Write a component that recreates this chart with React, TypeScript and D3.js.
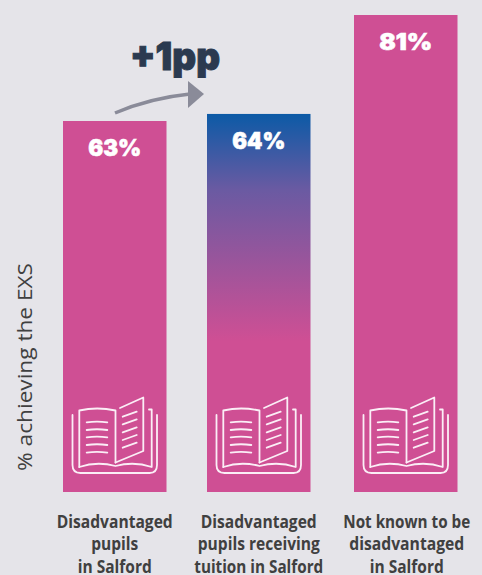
import React from "react";
import * as d3 from "d3";

const categories = ["Disadvantaged pupils in Salford", "Disadvantaged pupils receiving tuition in Salford", "Not known to be disadvantaged in Salford"];
const values = [63, 64.2, 81];
const valueLabels = ["63%", "64%", "81%"];
const labelLines = [
  ["Disadvantaged", "pupils", "in Salford"],
  ["Disadvantaged", "pupils receiving", "tuition in Salford"],
  ["Not known to be", "disadvantaged", "in Salford"],
];
const labelWidths = [
  [116, 47, 74],
  [116, 122, 129],
  [127, 115, 74],
];
const annotation = "+1pp";
const yTitle = "% achieving the EXS";

const W = 482, H = 575;
const PINK = "#cf4f94";
const y = d3.scaleLinear().domain([0, 81]).range([492, 15]);
const lefts = [63, 207, 354];
const barW = 103.5;

function Book({ x }: { x: number }) {
  const dx = x - 63;
  const leftLines = [422.3, 430, 437.3, 445, 452.7];
  const rightLines = [416.7, 424.4, 432.4, 440, 447.7];
  return (
    <g transform={`translate(${dx},0)`} fill="none" stroke="#fbeef6" strokeWidth={1.8} strokeLinecap="round" strokeLinejoin="round">
      <path d="M72.5 415 V465 Q72.5 473 80.5 473 H149.5 Q157 473 157 465 V415" />
      <path d="M79.3 467 V410.5 Q97 406.5 115.5 410.5 V462.5" />
      <path d="M79.3 467 Q97 461 115.5 466 Q134 461 151.7 467 V409.5 H149" />
      <path d="M120 408 L143.3 397.5 V451 L115.5 462.5" />
      {leftLines.map((ly) => (
        <path key={ly} d={`M86.7 ${ly} Q97 ${ly - 1.5} 107.3 ${ly}`} />
      ))}
      {rightLines.map((ly) => (
        <path key={ly} d={`M122.7 ${ly} L136.7 ${ly - 5}`} />
      ))}
    </g>
  );
}

export default function App() {
  return (
    <svg width={W} height={H} viewBox={`0 0 ${W} ${H}`} style={{ position: "fixed", left: 0, top: 0, display: "block" }} role="img" aria-label={categories.join(", ")}>
      <defs>
        <linearGradient id="tuition" x1="0" y1="0" x2="0" y2="1">
          <stop offset="0" stopColor="#0c5aa6" />
          <stop offset="0.2" stopColor="#6a5aa2" />
          <stop offset="0.6" stopColor={PINK} />
          <stop offset="1" stopColor={PINK} />
        </linearGradient>
      </defs>
      <rect width={W} height={H} fill="#e5e4e9" />
      {values.map((v, i) => (
        <g key={i}>
          <rect x={lefts[i]} y={y(v)} width={barW} height={y(0) - y(v)} fill={i === 1 ? "url(#tuition)" : PINK} />
          <text x={lefts[i] + barW / 2} y={y(v) + 35} textAnchor="middle" fill="#fff" stroke="#fff" strokeWidth={0.6} fontFamily="Inter, Lato, sans-serif" fontWeight={900} fontSize={22.5} textLength={53} lengthAdjust="spacingAndGlyphs">
            {valueLabels[i]}
          </text>
          <Book x={lefts[i]} />
          {labelLines[i].map((line, j) => (
            <text key={j} x={lefts[i] + barW / 2 + (i === 2 ? 1 : 0)} y={528 + j * 22.3} textAnchor="middle" fill="#404040" fontFamily="'Open Sans', sans-serif" fontWeight={700} fontSize={18} textLength={labelWidths[i][j]} lengthAdjust="spacingAndGlyphs">
              {line}
            </text>
          ))}
        </g>
      ))}
      <text transform="translate(32,367) rotate(-90)" textAnchor="middle" fill="#404040" fontFamily="'Open Sans', sans-serif" fontSize={20} textLength={208} lengthAdjust="spacingAndGlyphs">
        {yTitle}
      </text>
      <text x={175} y={70} textAnchor="middle" fill="#2b3a50" stroke="#2b3a50" strokeWidth={1} fontFamily="Inter, Lato, sans-serif" fontWeight={900} fontSize={38} textLength={90} lengthAdjust="spacingAndGlyphs">
        {annotation}
      </text>
      <path d="M115 113 Q150 98 190 94" fill="none" stroke="#8a8b99" strokeWidth={3.5} />
      <path d="M188 81 L204 94 L188 108 Z" fill="#8a8b99" />
    </svg>
  );
}
